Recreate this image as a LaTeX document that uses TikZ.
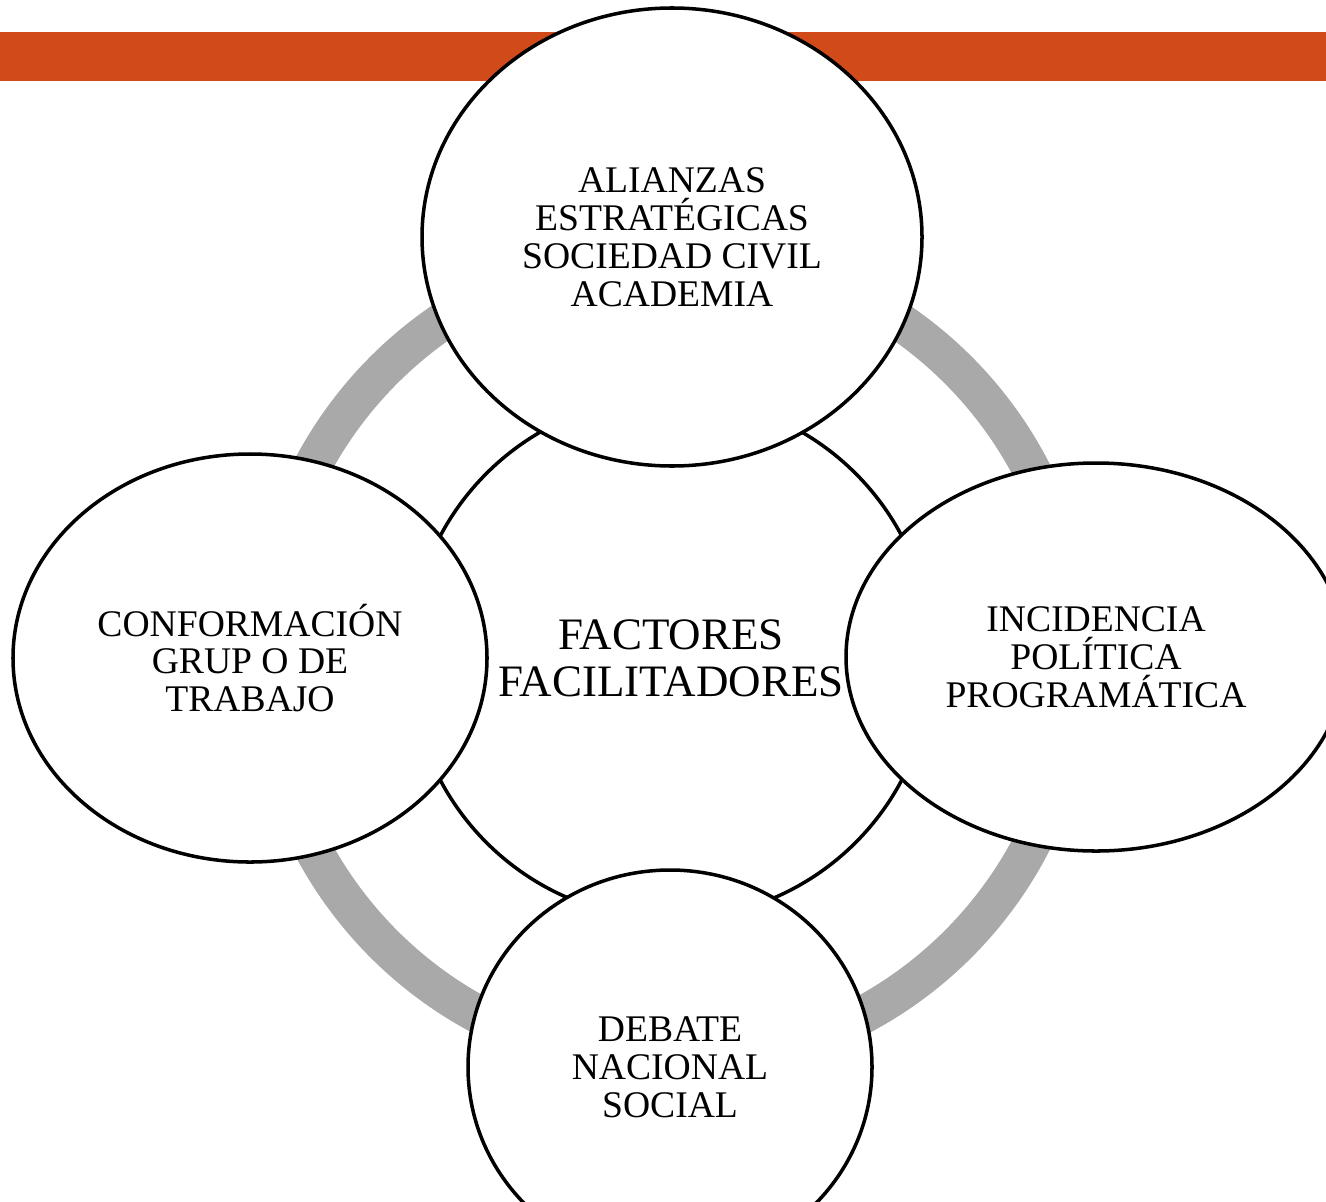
\documentclass[tikz,border=0pt]{standalone}
\usepackage{fontspec}
\setmainfont{Liberation Serif}
\usepackage{tikz}
\usetikzlibrary{shapes}
\definecolor{barorange}{RGB}{209,74,26}
\definecolor{ringgray}{RGB}{169,169,169}
\tikzset{ell/.style={ellipse,draw,fill=white,line width=1pt,inner sep=0pt,align=center,font=\fontsize{10.7}{10.8}\selectfont}}
\tikzset{hub/.style={circle,draw,fill=white,line width=1pt,minimum size=5.22cm,inner sep=0pt,align=center,font=\fontsize{12.8}{13.4}\selectfont}}

\begin{document}
\begin{tikzpicture}
    \useasboundingbox (0,0) rectangle (13.26,-12.01);
    \clip (0,0) rectangle (13.26,-12.01);
    \fill[barorange] (0,-0.32) rectangle (13.26,-0.81);
    \draw[ringgray,line width=0.38cm] (6.71,-6.57) circle (4.06cm);

    \node[hub] (c) at (6.71,-6.58) {FACTORES\\FACILITADORES};
    \node[ell,minimum width=5.00cm,minimum height=4.58cm] (t) at (6.72,-2.37) {ALIANZAS\\ESTRATÉGICAS\\SOCIEDAD CIVIL\\ACADEMIA};
    \node[ell,minimum width=4.74cm,minimum height=4.08cm] (l) at (2.50,-6.58) {CONFORMACIÓN\\GRUP O DE\\TRABAJO};
    \node[ell,minimum width=5.00cm,minimum height=3.88cm] (r) at (10.96,-6.57) {INCIDENCIA\\POLÍTICA\\PROGRAMÁTICA};
    \node[ell,minimum width=4.04cm,minimum height=3.94cm] (b) at (6.70,-10.67) {DEBATE\\NACIONAL\\SOCIAL};
\end{tikzpicture}
\end{document}
